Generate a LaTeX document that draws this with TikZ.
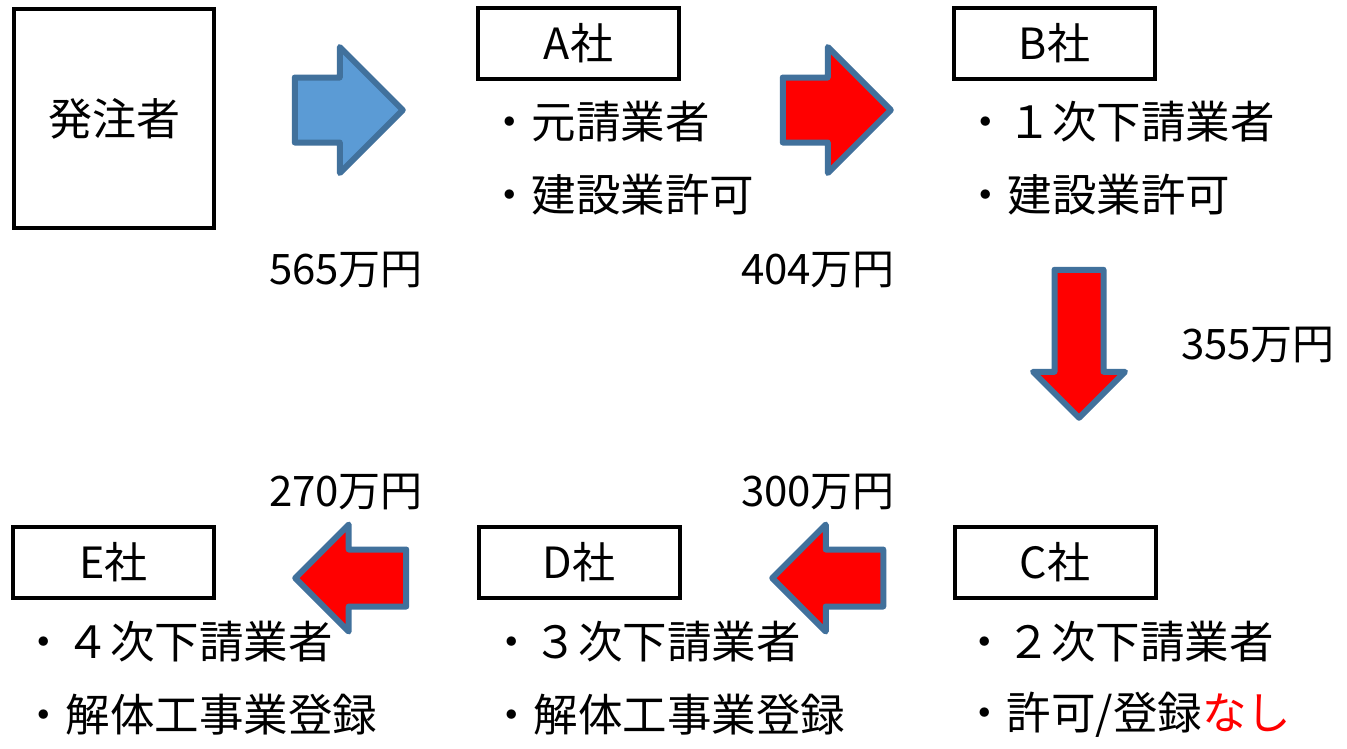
\documentclass[tikz,border=0pt]{standalone}
\usepackage{fontspec}
\setmainfont{Noto Sans CJK JP}
\usepackage{tikz}
\usetikzlibrary{positioning,shapes.arrows}
\definecolor{arrowblue}{HTML}{5B9BD5}
\definecolor{arrowedge}{HTML}{41719C}
\tikzset{
  firm/.style={draw, line width=4pt, minimum width=201pt, minimum height=71pt,
    inner sep=0pt, font=\fontsize{43}{50}\selectfont},
  note/.style={anchor=west, inner sep=0pt, font=\fontsize{44.5}{50}\selectfont},
  pay/.style={inner sep=0pt, font=\fontsize{42}{50}\selectfont},
  flow/.style={shape=single arrow, draw=arrowedge, line width=6pt, line join=round,
    single arrow head indent=0pt, anchor=tip},
  flow right/.style={flow, inner sep=29.5pt, single arrow head extend=30.5pt, minimum height=108pt},
  flow left/.style={flow, shape border rotate=180, inner sep=25.5pt, single arrow head extend=25pt, minimum height=111pt},
  flow down/.style={flow, shape border rotate=270, inner sep=21.5pt, single arrow head extend=21.5pt, minimum height=148pt}
}
\begin{document}
\begin{tikzpicture}[x=1pt, y=-1pt]

\fill [white] (0,0) rectangle (1347,748);
\useasboundingbox (0,0) rectangle (1347,748);

\node [firm, minimum width=200pt, minimum height=219pt, font=\fontsize{44}{52}\selectfont]
  (client) at (114,118.5) {発注者};

\foreach \f/\x/\y in {A/578.5/43.5, B/1054.5/43.5, C/1055/562, D/579/562.5, E/113.5/562}
  \node [firm] (firm-\f) at (\x,\y) {{\f}社};

\foreach \f/\x/\y/\ta/\tb in {A/487/122/元請業者/建設業許可,
    B/963/122/１次下請業者/建設業許可,
    C/962/642/２次下請業者/{許可/登録\textcolor{red}{なし}},
    D/489/642/３次下請業者/解体工事業登録,
    E/21/642/４次下請業者/解体工事業登録}
{
  \node [note] (note-\f-1) at (\x,\y) {・{\ta}};
  \node [note] (note-\f-2) at (\x,\y+73) {・{\tb}};
}

\foreach \v/\x/\y [count=\i] in {565/346/270, 404/818/270, 355/1258/345, 300/818/492, 270/346/492}
  \node [pay] (pay-\i) at (\x,\y) {{\v}万円};

\node [flow right, fill=arrowblue] (arrow-1) at (407,110) {};
\node [flow right, fill=red] (arrow-2) at (895,110) {};
\node [flow down, fill=red] (arrow-3) at (1079,422) {};
\node [flow left, fill=red] (arrow-4) at (768,578) {};
\node [flow left, fill=red] (arrow-5) at (291,578) {};

\end{tikzpicture}
\end{document}
